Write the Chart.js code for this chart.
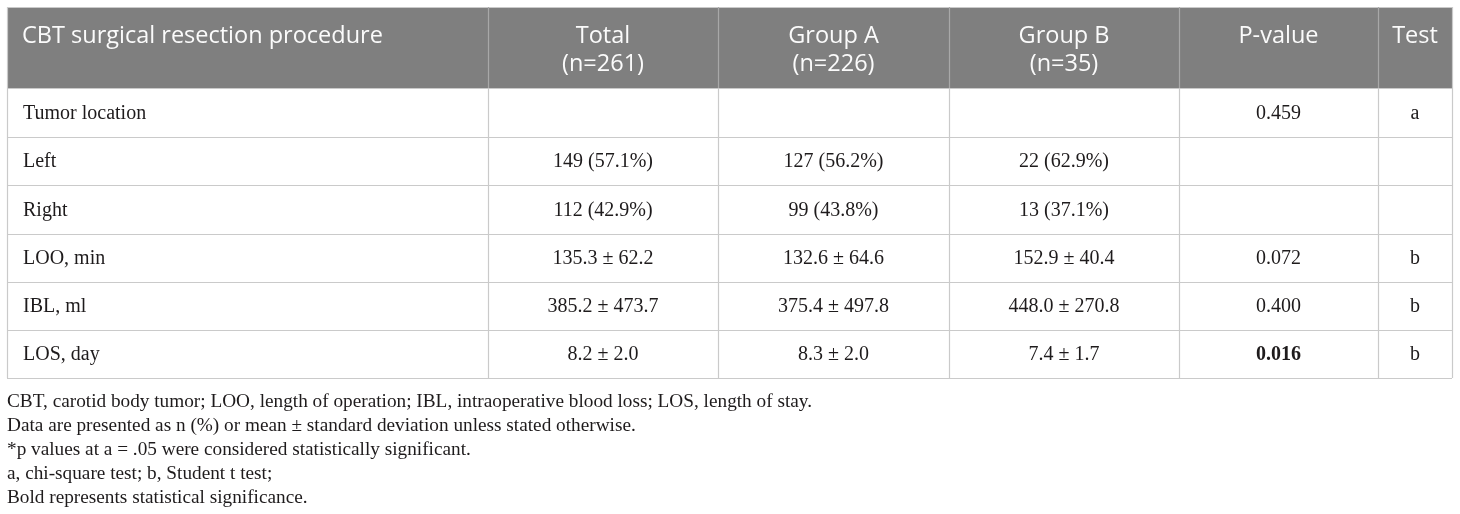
<!DOCTYPE html>
<html>
<head>
<meta charset="utf-8">
<script src="https://cdn.jsdelivr.net/npm/chart.js@4.4.0/dist/chart.umd.min.js"></script>
<style>
  html, body { margin: 0; padding: 0; background: #fff; }
  #wrap { width: 1460px; height: 514px; position: relative; }
</style>
</head>
<body>
<div id="wrap"><canvas id="canvas"></canvas></div>
<script>
// table content
var headers = ['CBT surgical resection procedure', 'Total\n(n=261)', 'Group A\n(n=226)', 'Group B\n(n=35)', 'P-value', 'Test'];
var rowLabels = ['Tumor location', 'Left', 'Right', 'LOO, min', 'IBL, ml', 'LOS, day'];
var totalVals = ['', '149 (57.1%)', '112 (42.9%)', '135.3 ± 62.2', '385.2 ± 473.7', '8.2 ± 2.0'];
var groupAVals = ['', '127 (56.2%)', '99 (43.8%)', '132.6 ± 64.6', '375.4 ± 497.8', '8.3 ± 2.0'];
var groupBVals = ['', '22 (62.9%)', '13 (37.1%)', '152.9 ± 40.4', '448.0 ± 270.8', '7.4 ± 1.7'];
var pValues = ['0.459', '', '', '0.072', '0.400', '0.016'];
var tests = ['a', '', '', 'b', 'b', 'b'];
var boldP = ['0.016'];
var footnotes = [
  'CBT, carotid body tumor; LOO, length of operation; IBL, intraoperative blood loss; LOS, length of stay.',
  'Data are presented as n (%) or mean ± standard deviation unless stated otherwise.',
  '*p values at a = .05 were considered statistically significant.',
  'a, chi-square test; b, Student t test;',
  'Bold represents statistical significance.'
];

// layout (scale units)
var colEdges = [7, 488, 718, 949, 1179, 1378, 1452];
var rowEdges = [7, 88, 136.5, 185, 233.5, 282, 330, 378];
var noteTop = 402, noteStep = 24, noteWidth = 805;

var tablePlugin = {
  id: 'tableDraw',
  afterDraw: function (chart) {
    var ctx = chart.ctx;
    var xs = chart.scales.x, ys = chart.scales.y;
    var X = function (v) { return xs.getPixelForValue(v); };
    var Y = function (v) { return ys.getPixelForValue(v); };
    var cols = [rowLabels, totalVals, groupAVals, groupBVals, pValues, tests];
    var left = X(colEdges[0]), right = X(colEdges[colEdges.length - 1]);
    var top = Y(rowEdges[0]), bottom = Y(rowEdges[rowEdges.length - 1]);

    ctx.save();
    // header band
    ctx.fillStyle = '#7f7f7f';
    ctx.fillRect(left, top, right - left, Y(rowEdges[1]) - top);

    // horizontal rules
    ctx.lineWidth = 1.2;
    ctx.strokeStyle = '#cacaca';
    rowEdges.forEach(function (r) {
      ctx.beginPath();
      ctx.moveTo(left, Math.round(Y(r)) + 0.5);
      ctx.lineTo(right, Math.round(Y(r)) + 0.5);
      ctx.stroke();
    });
    // vertical rules
    colEdges.forEach(function (c, i) {
      var px = Math.round(X(c)) + 0.5;
      ctx.strokeStyle = (i === 0 || i === colEdges.length - 1) ? '#cacaca' : '#a8a8a8';
      ctx.beginPath();
      ctx.moveTo(px, top);
      ctx.lineTo(px, Y(rowEdges[1]));
      ctx.stroke();
      ctx.strokeStyle = '#cacaca';
      ctx.beginPath();
      ctx.moveTo(px, Y(rowEdges[1]));
      ctx.lineTo(px, bottom);
      ctx.stroke();
    });

    // header text
    ctx.fillStyle = '#fbfbfb';
    ctx.font = '23.5px "Open Sans"';
    ctx.textBaseline = 'middle';
    headers.forEach(function (h, i) {
      var lines = h.split('\n');
      var cx = i === 0 ? X(colEdges[0] + 15) : (X(colEdges[i]) + X(colEdges[i + 1])) / 2;
      ctx.textAlign = i === 0 ? 'left' : 'center';
      lines.forEach(function (ln, k) {
        ctx.fillText(ln, cx, Y(rowEdges[0] + 29 + k * 28));
      });
    });

    // body text
    ctx.fillStyle = '#1e1b1c';
    cols.forEach(function (vals, i) {
      vals.forEach(function (v, r) {
        if (!v) return;
        var cy = (Y(rowEdges[r + 1]) + Y(rowEdges[r + 2])) / 2 + 1;
        ctx.font = (boldP.indexOf(v) >= 0 && i === 4 ? 'bold ' : '') + '20px "Liberation Serif"';
        if (i === 0) {
          ctx.textAlign = 'left';
          ctx.fillText(v, X(colEdges[0] + 16), cy);
        } else {
          ctx.textAlign = 'center';
          ctx.fillText(v, (X(colEdges[i]) + X(colEdges[i + 1])) / 2, cy);
        }
      });
    });

    // footnotes (condensed serif look)
    ctx.font = '18px "Liberation Serif"';
    ctx.textAlign = 'left';
    var sx = noteWidth / ctx.measureText(footnotes[0]).width;
    footnotes.forEach(function (f, k) {
      ctx.save();
      ctx.translate(X(colEdges[0]), Y(noteTop + k * noteStep));
      ctx.scale(sx, 1);
      ctx.fillText(f, 0, 0);
      ctx.restore();
    });
    ctx.restore();
  }
};

new Chart(document.getElementById('canvas'), {
  type: 'scatter',
  data: { datasets: [] },
  options: {
    responsive: true,
    maintainAspectRatio: false,
    animation: false,
    layout: { padding: 0 },
    plugins: { legend: { display: false }, tooltip: { enabled: false } },
    scales: {
      x: { type: 'linear', display: false, min: 0, max: 1460 },
      y: { type: 'linear', display: false, min: 0, max: 514, reverse: true }
    }
  },
  plugins: [tablePlugin]
});
</script>
</body>
</html>
